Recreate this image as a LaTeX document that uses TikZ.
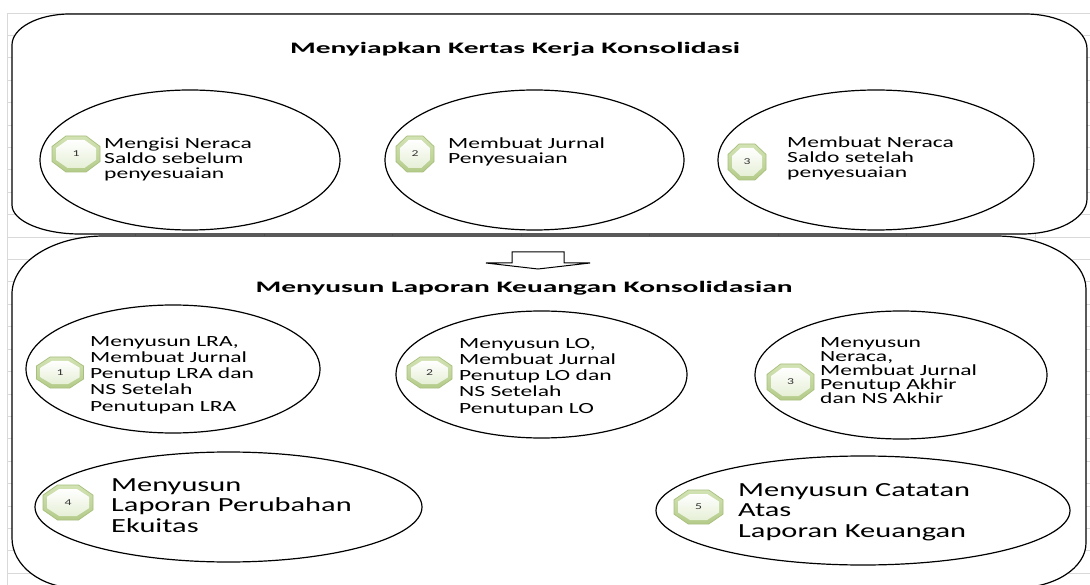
\documentclass[tikz,border=0pt]{standalone}
\usepackage{fontspec}
\usetikzlibrary{shapes.geometric}
\newfontfamily\bodyfont[FakeStretch=1.52]{Carlito}
\newfontfamily\titlefont[FakeStretch=1.84]{Carlito}
\definecolor{gridc}{HTML}{D9D9D9}
\definecolor{octtop}{HTML}{D3E3B4}
\definecolor{octbot}{HTML}{B4CB8A}
\definecolor{octline}{HTML}{A7BF7C}
\definecolor{octinbot}{HTML}{E6EFD6}
\definecolor{numc}{HTML}{333333}
\tikzset{
  gridline/.style={draw=gridc, line width=0.6pt},
  container/.style={draw=black, fill=white, line width=1.2pt},
  stage/.style={ellipse, draw=black, fill=white, line width=1.2pt, inner sep=0pt},
  octouter/.style={draw=octline, line width=0.7pt, top color=octtop, bottom color=octbot},
  octinner/.style={top color=white, bottom color=octinbot},
  badgenum/.style={inner sep=0pt, font=\bodyfont\fontsize{9}{9}\selectfont, text=numc},
  bodytext/.style={anchor=base west, align=left, inner sep=0pt, font=\bodyfont\fontsize{15.5}{15}\selectfont},
  bodytextB/.style={anchor=base west, align=left, inner sep=0pt, font=\bodyfont\fontsize{15.5}{16.3}\selectfont},
  bodytextC/.style={anchor=base west, align=left, inner sep=0pt, font=\bodyfont\fontsize{15.5}{14}\selectfont},
  bigtext/.style={anchor=base west, align=left, inner sep=0pt, font=\bodyfont\fontsize{20}{20.8}\selectfont},
  titletext/.style={anchor=base, inner sep=0pt, font=\titlefont\bfseries\fontsize{16}{16}\selectfont},
  blockarrow/.style={draw=black, fill=white, line width=1pt, line join=miter}
}
% badge: name, cx, cy, width, height, number
\newcommand\drawbadge[6]{%
  \pgfmathsetmacro\bdgW{#4/2}\pgfmathsetmacro\bdgH{#5/2}%
  \pgfmathsetmacro\bdgX{0.29*#4}\pgfmathsetmacro\bdgY{0.29*#5}%
  \path[octouter] (#2-\bdgW+\bdgX,#3-\bdgH) -- (#2+\bdgW-\bdgX,#3-\bdgH) -- (#2+\bdgW,#3-\bdgH+\bdgY)
    -- (#2+\bdgW,#3+\bdgH-\bdgY) -- (#2+\bdgW-\bdgX,#3+\bdgH) -- (#2-\bdgW+\bdgX,#3+\bdgH)
    -- (#2-\bdgW,#3+\bdgH-\bdgY) -- (#2-\bdgW,#3-\bdgH+\bdgY) -- cycle;
  \pgfmathsetmacro\bdgW{#4/2-4}\pgfmathsetmacro\bdgH{#5/2-4}%
  \pgfmathsetmacro\bdgX{0.29*(#4-8)}\pgfmathsetmacro\bdgY{0.29*(#5-8)}%
  \path[octinner] (#2-\bdgW+\bdgX,#3-\bdgH) -- (#2+\bdgW-\bdgX,#3-\bdgH) -- (#2+\bdgW,#3-\bdgH+\bdgY)
    -- (#2+\bdgW,#3+\bdgH-\bdgY) -- (#2+\bdgW-\bdgX,#3+\bdgH) -- (#2-\bdgW+\bdgX,#3+\bdgH)
    -- (#2-\bdgW,#3+\bdgH-\bdgY) -- (#2-\bdgW,#3-\bdgH+\bdgY) -- cycle;
  \node[badgenum] (#1) at (#2,#3) {#6};%
}
\begin{document}
\begin{tikzpicture}[x=1pt,y=-1pt]
\useasboundingbox[fill=white] (0,0) rectangle (1090,585);
% spreadsheet grid
\foreach \i in {0,...,8} \draw[gridline] (7+128.5*\i,13) -- (7+128.5*\i,585);
\foreach \j in {0,...,25} \draw[gridline] (7,13+22.4*\j) -- (1090,13+22.4*\j);

% upper container
\path[container] (12,45) .. controls (12,27.9) and (38,14) .. (70,14)
  -- (1025,14) .. controls (1059.2,14) and (1087,29.3) .. (1087,49)
  -- (1087,199) .. controls (1087,218.3) and (1057.9,234) .. (1022,234)
  -- (80,234) .. controls (42.5,234) and (12,221) .. (12,205) -- cycle;
% lower container
\path[container] (12,294) .. controls (12,262) and (53.2,236) .. (104,236)
  -- (996,236) .. controls (1045.7,236) and (1086,259.7) .. (1086,289)
  -- (1086,543) .. controls (1086,567.8) and (1054.6,588) .. (1016,588)
  -- (77,588) .. controls (41.1,588) and (12,565.6) .. (12,538) -- cycle;

% arrow between stages
\draw[blockarrow] (512,252) -- (564,252) -- (564,263) -- (590,263) -- (538,269) -- (486,263) -- (512,263) -- cycle;

% titles
\node[titletext] (t1) at (515,54) {Menyiapkan Kertas Kerja Konsolidasi};
\node[titletext] (t2) at (524,293) {Menyusun Laporan Keuangan Konsolidasian};

% upper stage ellipses
\node[stage, minimum width=300pt, minimum height=140pt] (e1) at (190,160) {};
\node[stage, minimum width=299pt, minimum height=140pt] (e2) at (534.5,160) {};
\node[stage, minimum width=316pt, minimum height=140pt] (e3) at (876,160) {};
% lower stage ellipses
\node[stage, minimum width=294pt, minimum height=128pt] (l1) at (173,369) {};
\node[stage, minimum width=291pt, minimum height=127pt] (l2) at (541.5,374.5) {};
\node[stage, minimum width=292pt, minimum height=128pt] (l3) at (901,375) {};
\node[stage, minimum width=387pt, minimum height=110pt] (l4) at (228.5,507) {};
\node[stage, minimum width=414pt, minimum height=109pt] (l5) at (863,510.5) {};

% number badges
\drawbadge{n1}{76}{154}{48}{36}{1}
\drawbadge{n2}{415}{154}{38}{36}{2}
\drawbadge{n3}{747}{162}{38}{36}{3}
\drawbadge{m1}{60}{372.5}{47}{31}{1}
\drawbadge{m2}{429.5}{372.5}{45}{31}{2}
\drawbadge{m3}{790.5}{382}{47}{36}{3}
\drawbadge{m4}{68}{502.5}{50}{35}{4}
\drawbadge{m5}{698.5}{507}{49}{34}{5}

% texts (anchor = baseline of the last line)
\node[bodytext] (x1) at (104,179) {Mengisi Neraca\\Saldo sebelum\\penyesuaian};
\node[bodytext] (x2) at (448,164) {Membuat Jurnal\\Penyesuaian};
\node[bodytext] (x3) at (787,178) {Membuat Neraca\\Saldo setelah\\penyesuaian};
\node[bodytextB] (y1) at (90,411.2) {Menyusun LRA,\\Membuat Jurnal\\Penutup LRA dan\\NS Setelah\\Penutupan LRA};
\node[bodytextB] (y2) at (459,413.2) {Menyusun LO,\\Membuat Jurnal\\Penutup LO dan\\NS Setelah\\Penutupan LO};
\node[bodytextC] (y3) at (820,403) {Menyusun\\Neraca,\\Membuat Jurnal\\Penutup Akhir\\dan NS Akhir};
\node[bigtext] (y4) at (111,532.6) {Menyusun\\Laporan Perubahan\\Ekuitas};
\node[bigtext] (y5) at (738,537.6) {Menyusun Catatan\\Atas\\Laporan Keuangan};
\end{tikzpicture}
\end{document}
